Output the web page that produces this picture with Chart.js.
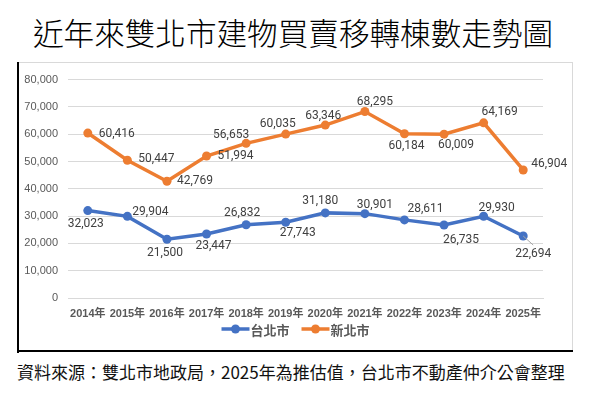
<!DOCTYPE html>
<html><head><meta charset="utf-8">
<script src="https://cdn.jsdelivr.net/npm/chart.js@4/dist/chart.umd.min.js"></script>
<style>
html,body{margin:0;padding:0;background:#fff;width:589px;height:394px;overflow:hidden;}
#title{position:absolute;left:0;top:10px;width:586px;text-align:center;font-family:"Noto Sans CJK TC","Noto Sans CJK SC",sans-serif;font-size:30.6px;font-weight:300;color:#000;line-height:44px;}
#frame{position:absolute;left:18px;top:62px;width:553px;height:287px;border:1px solid #d9d9d9;}
#lblack{position:absolute;left:17px;top:62px;width:2px;height:291px;background:#000;}
#bblack{position:absolute;left:17px;top:350px;width:556px;height:2px;background:#000;}
#wrap{position:absolute;left:19px;top:63px;width:553px;height:287px;}
#foot{position:absolute;left:17px;top:360px;width:560px;font-family:"Noto Sans CJK TC","Noto Sans CJK SC",sans-serif;font-size:17px;color:#111;line-height:24px;white-space:nowrap;}
</style></head>
<body>
<div id="title">近年來雙北市建物買賣移轉棟數走勢圖</div>
<div id="frame"></div>
<div id="wrap"><canvas id="c" width="553" height="287"></canvas></div>
<div id="lblack"></div><div id="bblack"></div>
<div id="foot">資料來源：雙北市地政局，2025年為推估值，台北市不動產仲介公會整理</div>
<script>
const categories = ["2014年","2015年","2016年","2017年","2018年","2019年","2020年","2021年","2022年","2023年","2024年","2025年"];
const taipei = [32023,29904,21500,23447,26832,27743,31180,30901,28611,26735,29930,22694];
const newTaipei = [60416,50447,42769,51994,56653,60035,63346,68295,60184,60009,64169,46904];
const seriesNames = ["台北市","新北市"];
const yTicks = [0,10000,20000,30000,40000,50000,60000,70000,80000];

// label offsets (style): [dx, dy] from each point
const taipeiLabelOffsets = [[-2,13],[23,-4],[-2,14],[7,12],[-4,-12],[12,11],[-5,-12],[10,-9],[21,-11],[17,15],[13,-8],[10,18]];
const newTaipeiLabelOffsets = [[29,1],[29,-1],[28,0],[29,0],[-15,-8],[-8,-10],[-2,-9],[10,-10],[2,12],[12,11],[16,-11],[26,-6]];

const fmt = v => v.toLocaleString('en-US');

const labelPlugin = {
  id:'labels',
  afterDatasetsDraw(chart){
    const ctx = chart.ctx;
    const offs = [taipeiLabelOffsets, newTaipeiLabelOffsets];
    ctx.save();
    ctx.font = '12px Roboto, "Liberation Sans", sans-serif';
    ctx.fillStyle = '#404040';
    ctx.textAlign = 'center';
    ctx.textBaseline = 'middle';
    chart.data.datasets.forEach((ds,di)=>{
      const meta = chart.getDatasetMeta(di);
      meta.data.forEach((pt,i)=>{
        const [dx,dy] = offs[di][i];
        if (di===0 && i===ds.data.length-1){
          ctx.save();
          ctx.strokeStyle='#a6a6a6';ctx.lineWidth=1;
          ctx.beginPath();ctx.moveTo(pt.x,pt.y);ctx.lineTo(pt.x+dx,pt.y+dy-9);ctx.stroke();
          ctx.restore();
        }
        ctx.fillText(fmt(ds.data[i]), pt.x+dx, pt.y+dy);
      });
    });
    ctx.restore();
  }
};

const legendPlugin = {
  id:'xlegend',
  afterDraw(chart){
    const ctx = chart.ctx;
    ctx.save();
    ctx.font = 'bold 13px "Noto Sans CJK TC", sans-serif';
    const y = 266;
    const lineW = 28, gap = 1, itemGap = 12;
    const widths = chart.data.datasets.map(d=>lineW+gap+ctx.measureText(d.label).width);
    const total = widths.reduce((a,b)=>a+b,0)+itemGap*(widths.length-1);
    let x = chart.width/2 - total/2;
    chart.data.datasets.forEach((d,i)=>{
      ctx.strokeStyle = d.borderColor; ctx.lineWidth = 3.5;
      ctx.beginPath(); ctx.moveTo(x,y); ctx.lineTo(x+lineW,y); ctx.stroke();
      ctx.fillStyle = d.borderColor;
      ctx.beginPath(); ctx.arc(x+lineW/2,y,4.5,0,Math.PI*2); ctx.fill();
      ctx.fillStyle = '#595959'; ctx.textAlign='left'; ctx.textBaseline='middle';
      ctx.fillText(d.label, x+lineW+gap, y+1);
      x += widths[i]+itemGap;
    });
    ctx.restore();
  }
};

new Chart(document.getElementById('c'), {
  type:'line',
  data:{
    labels:categories,
    datasets:[
      {label:seriesNames[0],data:taipei,borderColor:'#4472C4',backgroundColor:'#4472C4',borderWidth:3.5,pointRadius:4.5,pointBackgroundColor:'#4472C4',pointBorderWidth:0,tension:0},
      {label:seriesNames[1],data:newTaipei,borderColor:'#ED7D31',backgroundColor:'#ED7D31',borderWidth:3.5,pointRadius:4.5,pointBackgroundColor:'#ED7D31',pointBorderWidth:0,tension:0}
    ]
  },
  options:{
    responsive:false,animation:false,
    layout:{padding:{left:0,right:29,top:11,bottom:0}},
    plugins:{legend:{display:false},tooltip:{enabled:false}},
    scales:{
      x:{
        offset:true,
        grid:{display:false,drawTicks:false},
        border:{display:true,color:'#d9d9d9',width:1},
        ticks:{padding:9,color:'#595959',font:{family:'"Liberation Sans","Noto Sans CJK TC",sans-serif',size:11,weight:'bold'},maxRotation:0,autoSkip:false},
        afterFit(s){s.height=52;}
      },
      y:{
        min:0,max:80000,
        afterBuildTicks(s){s.ticks = yTicks.map(v=>({value:v}));},
        grid:{color:'#d9d9d9',drawTicks:false},
        border:{display:false},
        ticks:{padding:10,color:'#595959',font:{family:'"Liberation Sans",sans-serif',size:11},callback:v=>fmt(v)},
        afterFit(s){s.width=49;}
      }
    }
  },
  plugins:[labelPlugin,legendPlugin]
});
</script>
</body></html>
